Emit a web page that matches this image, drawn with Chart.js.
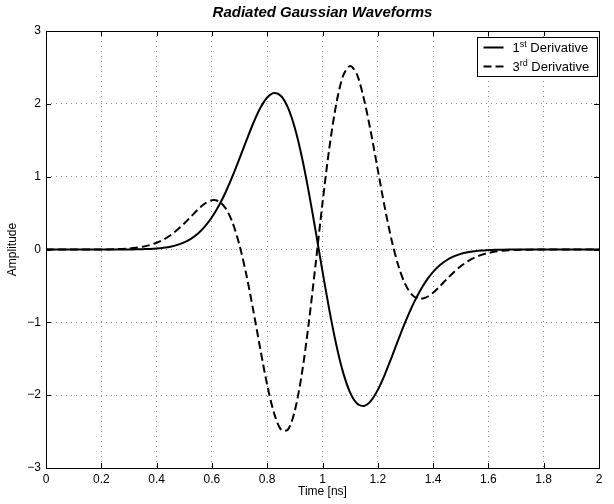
<!DOCTYPE html>
<html><head><meta charset="utf-8">
<script src="https://cdn.jsdelivr.net/npm/chart.js@4"></script>
<style>html,body{margin:0;padding:0;background:#fff;}#wrap{width:614px;height:504px;position:relative;}</style>
</head><body><div id="wrap"><canvas id="c" width="614" height="504"></canvas></div>
<script>
const timeNs = [0,0.1,0.2,0.25,0.3,0.325,0.35,0.375,0.4,0.425,0.45,0.475,0.5,0.525,0.55,0.575,0.6,0.625,0.65,0.675,0.7,0.725,0.75,0.775,0.8,0.825,0.85,0.875,0.9,0.925,0.95,0.975,1.0,1.025,1.05,1.075,1.1,1.125,1.15,1.175,1.2,1.225,1.25,1.275,1.3,1.325,1.35,1.375,1.4,1.425,1.45,1.475,1.5,1.525,1.55,1.575,1.6,1.625,1.65,1.7,1.75,1.8,1.9,2.0];
const firstDerivative = [0,0,0,0,0.001,0.002,0.005,0.008,0.014,0.024,0.039,0.063,0.098,0.149,0.220,0.317,0.442,0.600,0.790,1.010,1.251,1.499,1.737,1.942,2.087,2.149,2.107,1.947,1.667,1.276,0.795,0.257,-0.301,-0.836,-1.311,-1.694,-1.964,-2.114,-2.148,-2.078,-1.927,-1.720,-1.480,-1.231,-0.991,-0.774,-0.586,-0.431,-0.308,-0.214,-0.144,-0.095,-0.060,-0.038,-0.023,-0.013,-0.008,-0.004,-0.002,-0.001,0,0,0,0];
const thirdDerivative = [0,0,0.001,0.004,0.014,0.023,0.038,0.060,0.092,0.136,0.195,0.270,0.358,0.455,0.551,0.632,0.676,0.661,0.565,0.366,0.057,-0.354,-0.843,-1.366,-1.859,-2.248,-2.475,-2.472,-2.212,-1.714,-1.019,-0.203,0.637,1.401,2.002,2.390,2.520,2.400,2.063,1.610,1.093,0.582,0.129,-0.231,-0.483,-0.626,-0.677,-0.658,-0.593,-0.502,-0.404,-0.311,-0.229,-0.163,-0.112,-0.074,-0.047,-0.029,-0.018,-0.006,-0.002,0,0,0];
const seriesLabels = ['1st Derivative','3rd Derivative'];
const legendNumbers = ['1','3'];
const legendSuperscripts = ['st','rd'];
const legendSuffix = ' Derivative';
const xTickLabels = ['0','0.2','0.4','0.6','0.8','1','1.2','1.4','1.6','1.8','2'];
const yTickLabels = ['\u22123','\u22122','\u22121','0','1','2','3'];
const titleText = 'Radiated Gaussian Waveforms';
const xTitle = 'Time [ns]';
const yTitle = 'Amplitude';

const FONT = "'Liberation Sans', Arial, Helvetica, sans-serif";
Chart.defaults.font.family = FONT;
Chart.defaults.color = '#000';

function pts(ys){ return timeNs.map((t,i)=>({x:t,y:ys[i]})); }

const frameTicks = {
  id:'frameTicks',
  afterDatasetsDraw(chart){
    const {ctx, chartArea:a, scales} = chart;
    ctx.save();
    ctx.strokeStyle = '#000'; ctx.lineWidth = 1;
    ctx.beginPath();
    scales.x.ticks.forEach(t=>{
      const px = Math.round(scales.x.getPixelForValue(t.value))+0.5;
      ctx.moveTo(px,a.bottom); ctx.lineTo(px,a.bottom-5);
      ctx.moveTo(px,a.top); ctx.lineTo(px,a.top+5);
    });
    scales.y.ticks.forEach(t=>{
      const py = Math.round(scales.y.getPixelForValue(t.value))+0.5;
      ctx.moveTo(a.left,py); ctx.lineTo(a.left+5,py);
      ctx.moveTo(a.right,py); ctx.lineTo(a.right-5,py);
    });
    ctx.stroke();
    ctx.strokeRect(Math.round(a.left)+0.5, Math.round(a.top)+0.5, Math.round(a.right-a.left), Math.round(a.bottom-a.top));
    ctx.restore();
  },
  afterDraw(chart){
    const {ctx, chartArea:a} = chart;
    const w = 120, h = 39;
    const L = Math.round(a.right - 2 - w)+0.5, T = Math.round(a.top + 6)+0.5;
    ctx.save();
    ctx.fillStyle = '#fff'; ctx.fillRect(L,T,w,h);
    ctx.strokeStyle = '#000'; ctx.lineWidth = 1; ctx.strokeRect(L,T,w,h);
    chart.data.datasets.forEach((ds,i)=>{
      const y = T + 10 + i*19;
      ctx.beginPath();
      ctx.lineWidth = 2; ctx.strokeStyle = '#000';
      ctx.setLineDash(ds.borderDash || []);
      ctx.moveTo(L+6,y); ctx.lineTo(L+26,y); ctx.stroke();
      ctx.setLineDash([]);
      let x = L+35;
      ctx.fillStyle = '#000'; ctx.textBaseline = 'middle'; ctx.textAlign='left';
      ctx.font = '13px '+FONT;
      ctx.fillText(legendNumbers[i], x, y+1); x += ctx.measureText(legendNumbers[i]).width;
      ctx.font = '9px '+FONT;
      ctx.fillText(legendSuperscripts[i], x, y-3); x += ctx.measureText(legendSuperscripts[i]).width;
      ctx.font = '13px '+FONT;
      ctx.fillText(legendSuffix, x, y+1);
    });
    ctx.restore();
  }
};

new Chart(document.getElementById('c'), {
  type:'scatter',
  data:{ datasets:[
    {label:seriesLabels[0], data:pts(firstDerivative), showLine:true, borderColor:'#000', borderWidth:2, pointRadius:0, tension:0.3, fill:false},
    {label:seriesLabels[1], data:pts(thirdDerivative), showLine:true, borderColor:'#000', borderWidth:2, borderDash:[8,4], pointRadius:0, tension:0.3, fill:false}
  ]},
  options:{
    responsive:false, animation:false, devicePixelRatio:1,
    layout:{padding:{left:0,right:15,top:0,bottom:0}},
    plugins:{
      legend:{display:false}, tooltip:{enabled:false},
      title:{display:true, text:titleText, fullSize:false, color:'#000',
        font:{size:15, weight:'bold', style:'italic', family:FONT}, padding:{top:4,bottom:9}}
    },
    scales:{
      x:{type:'linear', min:0, max:2,
        afterFit(s){ s.height = 36; },
        ticks:{stepSize:0.2, padding:4, font:{size:12}, color:'#000', maxRotation:0, autoSkip:false,
          callback:(v)=>{ const i = Math.round(v/0.2); return xTickLabels[i]; }},
        grid:{color:'#8c8c8c', lineWidth:1, drawTicks:false},
        border:{display:false, dash:[1,4]},
        title:{display:true, text:xTitle, font:{size:12}, color:'#000', padding:{top:0,bottom:5}}
      },
      y:{type:'linear', min:-3, max:3,
        afterFit(s){ s.width = 46; },
        ticks:{stepSize:1, padding:5, font:{size:12}, color:'#000',
          callback:(v)=>yTickLabels[Math.round(v)+3]},
        grid:{color:'#8c8c8c', lineWidth:1, drawTicks:false},
        border:{display:false, dash:[1,4]},
        title:{display:true, text:yTitle, font:{size:12}, color:'#000', padding:{top:5,bottom:0}}
      }
    }
  },
  plugins:[frameTicks]
});
</script></body></html>
